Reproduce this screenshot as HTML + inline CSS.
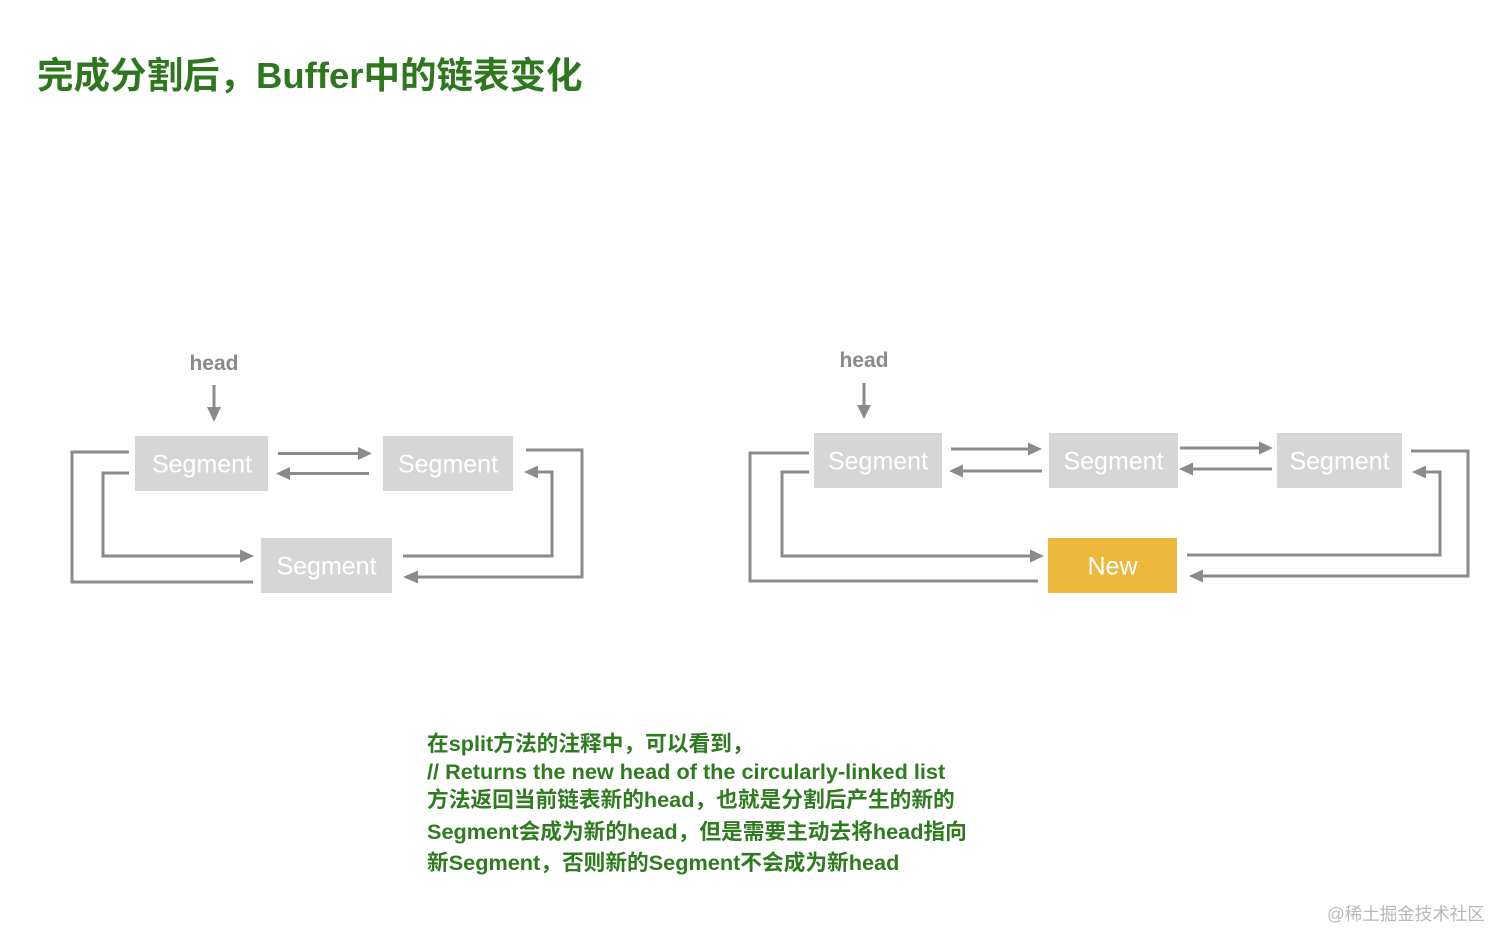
<!DOCTYPE html>
<html>
<head>
<meta charset="utf-8">
<style>
  html, body { margin: 0; padding: 0; background: #ffffff; }
  body { width: 1512px; height: 950px; overflow: hidden; position: relative; }
  svg { position: absolute; left: 0; top: 0; }
  .cn { font-family: "Liberation Sans", "Noto Sans CJK SC", sans-serif; }
</style>
</head>
<body>
<svg width="1512" height="950" viewBox="0 0 1512 950" xmlns="http://www.w3.org/2000/svg">
  <!-- Title -->
  <text class="cn" x="37" y="88" font-size="36.5" font-weight="bold" fill="#2e771e">完成分割后，Buffer中的链表变化</text>

  <!-- ============ LEFT DIAGRAM ============ -->
  <text x="214" y="370" text-anchor="middle" font-family="Liberation Sans, sans-serif" font-size="21" font-weight="bold" fill="#8a8a8a">head</text>
  <g stroke="#8b8b8b" stroke-width="3" fill="none">
    <line x1="214" y1="385" x2="214" y2="408"/>
    <line x1="278" y1="453.5" x2="359" y2="453.5"/>
    <line x1="369" y1="473.5" x2="289" y2="473.5"/>
    <polyline points="129,452 72,452 72,582 253,582"/>
    <polyline points="129,473 103,473 103,556 241,556"/>
    <polyline points="526,450 582,450 582,577 417,577"/>
    <polyline points="403,556 552,556 552,472 537,472"/>
  </g>
  <g fill="#8b8b8b">
    <polygon points="207,407 221,407 214,422"/>
    <polygon points="358,447 372,453.5 358,460"/>
    <polygon points="290,467 276,473.5 290,480"/>
    <polygon points="240,549.5 254,556 240,562.5"/>
    <polygon points="418,570.5 403,577 418,583.5"/>
    <polygon points="538,465.5 524,472 538,478.5"/>
  </g>
  <rect x="135" y="436" width="133" height="55" fill="#d6d6d6"/>
  <rect x="383" y="436" width="130" height="55" fill="#d6d6d6"/>
  <rect x="261" y="538" width="131" height="55" fill="#d6d6d6"/>
  <g font-family="Liberation Sans, sans-serif" font-size="25" fill="#ffffff" text-anchor="middle">
    <text x="202" y="472.5">Segment</text>
    <text x="448" y="472.5">Segment</text>
    <text x="326.5" y="574.5">Segment</text>
  </g>

  <!-- ============ RIGHT DIAGRAM ============ -->
  <text x="864" y="367" text-anchor="middle" font-family="Liberation Sans, sans-serif" font-size="21" font-weight="bold" fill="#8a8a8a">head</text>
  <g stroke="#8b8b8b" stroke-width="3" fill="none">
    <line x1="864" y1="383" x2="864" y2="406"/>
    <line x1="951" y1="449" x2="1029" y2="449"/>
    <line x1="1042" y1="471" x2="962" y2="471"/>
    <line x1="1180" y1="448" x2="1260" y2="448"/>
    <line x1="1272" y1="469" x2="1192" y2="469"/>
    <polyline points="809,453 750,453 750,581 1038,581"/>
    <polyline points="809,472 782,472 782,556 1031,556"/>
    <polyline points="1411,451 1468,451 1468,576 1202,576"/>
    <polyline points="1187,555 1440,555 1440,472 1425,472"/>
  </g>
  <g fill="#8b8b8b">
    <polygon points="857,405 871,405 864,419"/>
    <polygon points="1028,442.5 1042,449 1028,455.5"/>
    <polygon points="963,464.5 949,471 963,477.5"/>
    <polygon points="1259,441.5 1273,448 1259,454.5"/>
    <polygon points="1193,462.5 1179,469 1193,475.5"/>
    <polygon points="1030,549.5 1044,556 1030,562.5"/>
    <polygon points="1203,569.5 1189,576 1203,582.5"/>
    <polygon points="1426,465.5 1412,472 1426,478.5"/>
  </g>
  <rect x="814" y="433" width="128" height="55" fill="#d6d6d6"/>
  <rect x="1049" y="433" width="129" height="55" fill="#d6d6d6"/>
  <rect x="1277" y="433" width="125" height="55" fill="#d6d6d6"/>
  <rect x="1048" y="538" width="129" height="55" fill="#edb93c"/>
  <g font-family="Liberation Sans, sans-serif" font-size="25" fill="#ffffff" text-anchor="middle">
    <text x="878" y="469.5">Segment</text>
    <text x="1113.5" y="469.5">Segment</text>
    <text x="1339.5" y="469.5">Segment</text>
    <text x="1112.5" y="574.5">New</text>
  </g>

  <!-- ============ BODY TEXT ============ -->
  <g class="cn" font-size="21.7" font-weight="bold" fill="#2f7b20">
    <text x="427" y="751">在split方法的注释中，可以看到，</text>
    <text x="427" y="779">// Returns the new head of the circularly-linked list</text>
    <text x="427" y="807">方法返回当前链表新的head，也就是分割后产生的新的</text>
    <text x="427" y="839">Segment会成为新的head，但是需要主动去将head指向</text>
    <text x="427" y="870">新Segment，否则新的Segment不会成为新head</text>
  </g>

  <!-- Watermark -->
  <text class="cn" x="1327" y="920" font-size="17.5" fill="#b8b8b8">@稀土掘金技术社区</text>
</svg>
</body>
</html>
